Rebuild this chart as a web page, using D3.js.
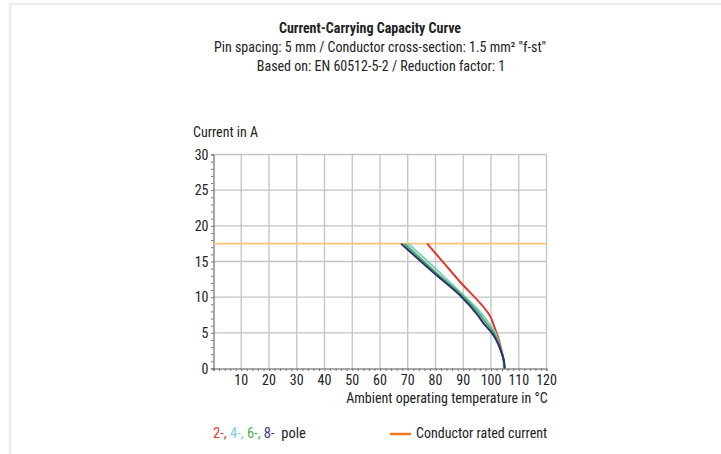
<!DOCTYPE html>
<html>
<head>
<meta charset="utf-8">
<script src="https://cdn.jsdelivr.net/npm/d3@7"></script>
<style>
  body { margin: 0; background: #fff; }
  svg text { font-family: "Liberation Sans Narrow", "Roboto Condensed", Roboto, sans-serif; fill: #222; }
</style>
</head>
<body>
<div id="chart"></div>
<script>
// Chart data
const xTicks = [10, 20, 30, 40, 50, 60, 70, 80, 90, 100, 110, 120];
const yTicks = [0, 5, 10, 15, 20, 25, 30];
const ratedCurrent = 17.5;

// temperature (°C), current (A) pairs per pole count
const pole2 = [[77, 17.5], [88.5, 12.3], [100, 7.1], [101.5, 5.5], [102.6, 4.3], [103.8, 2.5], [104.6, 1], [104.9, 0]];
const pole4 = [[70.2, 17.5], [80, 14.0], [90, 10.3], [96, 8], [99.5, 6.2], [101.5, 5], [103.2, 3], [104.4, 1.5], [104.9, 0]];
const pole6 = [[68.9, 17.5], [80, 13.5], [90, 10.1], [95.5, 7.8], [99, 6], [101, 5], [103, 3.2], [104.3, 1.6], [104.9, 0]];
const pole8 = [[67.6, 17.5], [80, 13.2], [89.5, 10], [95, 7.6], [98, 6], [100.3, 5], [102.5, 3.5], [104, 2], [104.7, 1], [104.9, 0]];

const series = [
    { name: "2-pole", values: pole2, color: "#e03a2c" },
    { name: "4-pole", values: pole4, color: "#7fcfcf" },
    { name: "6-pole", values: pole6, color: "#4caf50" },
    { name: "8-pole", values: pole8, color: "#2b2f7e" },
];

const width = 721, height = 454;
const svg = d3.select("#chart").append("svg")
    .attr("width", width)
    .attr("height", height);

// faint frame
svg.append("rect").attr("x", 10).attr("y", 4).attr("width", 720).attr("height", 460)
    .attr("fill", "none").attr("stroke", "#ececec").attr("stroke-width", 2.5);

const x = d3.scaleLinear().domain([0, 120]).range([213.5, 546.5]);
const y = d3.scaleLinear().domain([0, 30]).range([368.5, 154.5]);

// Titles
svg.append("text").attr("x", 370).attr("y", 33).attr("text-anchor", "middle")
    .attr("font-size", 14).attr("font-weight", "bold").text("Current-Carrying Capacity Curve");
svg.append("text").attr("x", 380).attr("y", 52).attr("text-anchor", "middle")
    .attr("font-size", 14).text("Pin spacing: 5 mm / Conductor cross-section: 1.5 mm² \"f-st\"");
svg.append("text").attr("x", 381).attr("y", 71).attr("text-anchor", "middle")
    .attr("font-size", 14).text("Based on: EN 60512-5-2 / Reduction factor: 1");

// Grid
const grid = svg.append("g");
grid.selectAll("line.v").data(xTicks).join("line")
    .attr("x1", d => x(d)).attr("x2", d => x(d))
    .attr("y1", y(0)).attr("y2", y(30))
    .attr("stroke", "#c4c4c4").attr("stroke-width", 1.3);
grid.selectAll("line.h").data(yTicks.filter(d => d > 0)).join("line")
    .attr("x1", x(0)).attr("x2", x(120))
    .attr("y1", d => y(d)).attr("y2", d => y(d))
    .attr("stroke", "#c4c4c4").attr("stroke-width", 1.3);

// Axes
const xAxis = svg.append("g").attr("transform", `translate(0,${y(0)})`)
    .call(d3.axisBottom(x).tickValues(d3.range(0, 121, 2)).tickSize(2.5).tickFormat(""));
xAxis.select(".domain").attr("stroke", "#555");
xAxis.selectAll(".tick line").attr("stroke", "#777");
svg.append("g").selectAll("text").data(xTicks).join("text")
    .attr("x", d => x(d)).attr("y", y(0) + 16)
    .attr("text-anchor", "middle").attr("font-size", 14).text(d => d);

const yAxis = svg.append("g").attr("transform", `translate(${x(0)},0)`)
    .call(d3.axisLeft(y).tickValues(d3.range(0, 31, 1)).tickSize(2.5).tickFormat(""));
yAxis.select(".domain").attr("stroke", "#555");
yAxis.selectAll(".tick line").attr("stroke", "#777");
svg.append("g").selectAll("text").data(yTicks).join("text")
    .attr("x", x(0) - 5).attr("y", d => y(d) + 5)
    .attr("text-anchor", "end").attr("font-size", 14).text(d => d);

svg.append("text").attr("x", 193).attr("y", 137).attr("font-size", 14).text("Current in A");
svg.append("text").attr("x", 447).attr("y", 403).attr("text-anchor", "middle")
    .attr("font-size", 14).text("Ambient operating temperature in °C");

// Rated current line
svg.append("line")
    .attr("x1", x(0)).attr("x2", x(120))
    .attr("y1", y(ratedCurrent)).attr("y2", y(ratedCurrent))
    .attr("stroke", "#f7c27a").attr("stroke-width", 1.8);

// Curves
const line = d3.line().x(d => x(d[0])).y(d => y(d[1])).curve(d3.curveMonotoneY);
svg.append("g").selectAll("path").data(series).join("path")
    .attr("d", d => line(d.values))
    .attr("fill", "none")
    .attr("stroke", d => d.color)
    .attr("stroke-width", 2);

// Legend
const leg = svg.append("text").attr("x", 213).attr("y", 438).attr("font-size", 14.5);
leg.append("tspan").attr("fill", "#e03a2c").text("2-, ");
leg.append("tspan").attr("fill", "#7fcfcf").text("4-, ");
leg.append("tspan").attr("fill", "#4caf50").text("6-, ");
leg.append("tspan").attr("fill", "#3a3a8e").text("8-");
leg.append("tspan").attr("fill", "#222").text("\u00a0 pole");

svg.append("line").attr("x1", 390).attr("x2", 411).attr("y1", 434).attr("y2", 434)
    .attr("stroke", "#f07a1a").attr("stroke-width", 2.5);
svg.append("text").attr("x", 416).attr("y", 438).attr("font-size", 14).text("Conductor rated current");
</script>
</body>
</html>
